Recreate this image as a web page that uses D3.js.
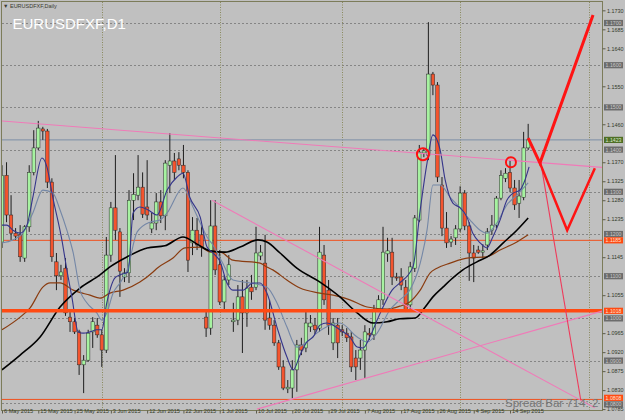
<!DOCTYPE html>
<html><head><meta charset="utf-8">
<script src="https://cdn.jsdelivr.net/npm/d3@7/dist/d3.min.js"></script>
<style>
html,body{margin:0;padding:0;background:#c0c0c0;}
svg{display:block;font-family:"Liberation Sans",Arial,sans-serif;}
</style></head><body>
<svg id="chart" width="625" height="420"></svg>
<script>
// ---- data (EURUSDFXF daily, bar index 0 = 6 May 2015) ----
const opens = [1.1181,1.1339,1.1245,1.1202,1.1198,1.1143,1.1217,1.1346,1.1404,1.1449,1.1444,1.1323,1.1134,1.1101,1.1119,1.1003,1.0992,1.0968,1.0890,1.0901,1.0968,1.0984,1.0961,1.0925,1.1150,1.1262,1.1205,1.1098,1.1108,1.1280,1.1292,1.1311,1.1264,1.1212,1.1226,1.1276,1.1243,1.1363,1.1373,1.1378,1.1363,1.1346,1.1179,1.1209,1.1198,1.1003,1.0977,1.1219,1.1127,1.1039,1.1091,1.0992,1.0996,1.1051,1.1013,1.1074,1.1074,1.1148,1.1131,1.1001,1.0984,1.0942,1.0885,1.0833,1.0835,1.0878,1.0937,1.0930,1.0980,1.0984,1.0977,1.1150,1.1067,1.0942,1.0984,1.0973,1.0965,1.0956,1.0906,1.0906,1.0925,1.0965,1.0961,1.1020,1.1044,1.1153,1.1157,1.1098,1.1098,1.1074,1.1032,1.1119,1.1233,1.1392,1.1387,1.1579,1.1553,1.1316,1.1214,1.1181,1.1191,1.1212,1.1297,1.1219,1.1155,1.1162,1.1157,1.1174,1.1209,1.1221,1.1285,1.1332,1.1346,1.1309,1.1273,1.1287,1.1404];
const highs = [1.1363,1.1370,1.1292,1.1214,1.1221,1.1221,1.1363,1.1446,1.1468,1.1454,1.1449,1.1332,1.1155,1.1127,1.1143,1.1015,1.1001,1.0973,1.0913,1.0973,1.1003,1.1001,1.0973,1.1193,1.1276,1.1387,1.1214,1.1119,1.1304,1.1344,1.1387,1.1346,1.1375,1.1250,1.1297,1.1304,1.1375,1.1439,1.1392,1.1394,1.1411,1.1351,1.1240,1.1238,1.1221,1.1020,1.1280,1.1280,1.1162,1.1103,1.1150,1.1037,1.1079,1.1091,1.1091,1.1103,1.1217,1.1174,1.1198,1.1044,1.0996,1.0949,1.0901,1.0854,1.0901,1.0949,1.0954,1.1020,1.1008,1.1001,1.1217,1.1174,1.1091,1.1001,1.1001,1.0984,1.0977,1.0968,1.0925,1.0949,1.0984,1.0977,1.1032,1.1055,1.1217,1.1191,1.1191,1.1108,1.1119,1.1091,1.1134,1.1245,1.1411,1.1404,1.1702,1.1584,1.1560,1.1335,1.1252,1.1195,1.1221,1.1313,1.1304,1.1228,1.1174,1.1172,1.1176,1.1214,1.1245,1.1290,1.1351,1.1356,1.1375,1.1328,1.1328,1.1442,1.1461];
const lows = [1.1167,1.1228,1.1186,1.1186,1.1134,1.1134,1.1205,1.1339,1.1399,1.1423,1.1309,1.1134,1.1067,1.1091,1.1006,1.0968,1.0963,1.0866,1.0823,1.0897,1.0930,1.0954,1.0885,1.0918,1.1134,1.1186,1.1051,1.1086,1.1084,1.1233,1.1280,1.1238,1.1233,1.1202,1.1209,1.1226,1.1209,1.1297,1.1328,1.1351,1.1332,1.1110,1.1150,1.1162,1.1146,1.0956,1.0961,1.1103,1.1032,1.1020,1.1079,1.0968,1.0984,1.0918,1.0980,1.1044,1.1067,1.1138,1.0973,1.0973,1.0935,1.0878,1.0830,1.0823,1.0811,1.0826,1.0913,1.0920,1.0968,1.0963,1.0968,1.1032,1.0961,1.0925,1.0906,1.0958,1.0944,1.0873,1.0854,1.0878,1.0859,1.0949,1.0949,1.1015,1.1032,1.1134,1.1079,1.1089,1.1067,1.1015,1.1020,1.1110,1.1228,1.1382,1.1375,1.1529,1.1323,1.1195,1.1167,1.1169,1.1174,1.1205,1.1209,1.1089,1.1086,1.1153,1.1143,1.1162,1.1198,1.1214,1.1280,1.1323,1.1299,1.1257,1.1238,1.1280,1.1399];
const closes = [1.1339,1.1245,1.1202,1.1195,1.1146,1.1217,1.1346,1.1404,1.1451,1.1444,1.1323,1.1146,1.1101,1.1110,1.1013,1.0992,1.0968,1.0890,1.0901,1.0965,1.0992,1.0961,1.0925,1.1150,1.1262,1.1209,1.1112,1.1108,1.1280,1.1294,1.1311,1.1247,1.1245,1.1226,1.1276,1.1243,1.1368,1.1373,1.1346,1.1363,1.1346,1.1138,1.1209,1.1174,1.1169,1.0977,1.1219,1.1115,1.1039,1.1091,1.1127,1.0996,1.1051,1.1013,1.1072,1.1063,1.1155,1.1157,1.0996,1.0984,1.0942,1.0885,1.0835,1.0837,1.0878,1.0937,1.0925,1.0989,1.0989,1.0973,1.1157,1.1044,1.0984,1.0989,1.0942,1.0968,1.0954,1.0885,1.0885,1.0925,1.0968,1.0961,1.1020,1.1044,1.1157,1.1160,1.1098,1.1096,1.1079,1.1020,1.1122,1.1238,1.1394,1.1397,1.1579,1.1553,1.1335,1.1214,1.1179,1.1188,1.1212,1.1297,1.1219,1.1155,1.1143,1.1157,1.1160,1.1205,1.1221,1.1285,1.1339,1.1344,1.1309,1.1269,1.1290,1.1404,1.1423];

const dateLabels = ["6 May 2015","15 May 2015","25 May 2015","3 Jun 2015","12 Jun 2015","22 Jun 2015","1 Jul 2015","10 Jul 2015","20 Jul 2015","29 Jul 2015","7 Aug 2015","17 Aug 2015","26 Aug 2015","4 Sep 2015","14 Sep 2015"];
const dateLabelBars = [0,8,16,24,32,40,48,56,64,72,80,88,96,104,112];
const monthGridBars = [22,48,75,101,129.4];

// visible axis labels (the ones hidden under price boxes in the reference are left out)
const priceLabels = ["1.0785","1.0830","1.0875","1.0920","1.0965","1.1055","1.1145","1.1235","1.1280","1.1325","1.1370","1.1460","1.1550","1.1640","1.1685","1.1730"];
const gridLevels = ["1.0800","1.0900","1.1000","1.1100","1.1200","1.1300","1.1400","1.1500","1.1600","1.1700"];
const bidLevel = "1.1423";
const thinRedLevels = ["1.1185","1.0808"];
const thickRedLevel = "1.1018";

// moving averages: [bar index, price]
const maFast = [[0,1.1221],[1.1,1.1221],[2.4,1.1209],[4,1.1202],[5.5,1.1221],[6.8,1.1287],[8.8,1.1380],[9.9,1.1359],[11.2,1.1287],[13.2,1.1186],[14.3,1.1115],[15.4,1.1051],[16.8,1.0968],[17.9,1.0965],[19.4,1.0968],[20.9,1.0973],[22,1.0973],[23.1,1.1037],[24.9,1.1096],[26,1.1103],[27.8,1.1110],[28.9,1.1250],[30.4,1.1264],[32.2,1.1257],[34.2,1.1245],[36.4,1.1304],[38.6,1.1335],[39.9,1.1344],[41.4,1.1287],[43.7,1.1240],[45.2,1.1169],[46.5,1.1155],[48.1,1.1134],[49.6,1.1084],[50.9,1.1067],[53.1,1.1067],[55.3,1.1084],[56.9,1.1084],[58.4,1.1060],[60.6,1.0980],[62.8,1.0909],[64.2,1.0878],[65.7,1.0913],[67.2,1.0944],[68.6,1.0956],[70.1,1.0984],[71.6,1.0989],[73,1.0984],[74.5,1.0973],[76.7,1.0956],[78.3,1.0932],[79.6,1.0930],[81.1,1.0956],[82.7,1.0996],[84,1.1027],[86,1.1067],[87.7,1.1084],[90.6,1.1122],[92.2,1.1257],[93.7,1.1368],[95,1.1435],[96.6,1.1399],[97.7,1.1328],[99.4,1.1273],[101,1.1262],[102.5,1.1240],[103.8,1.1202],[105.4,1.1179],[106.9,1.1167],[108.2,1.1193],[109.8,1.1233],[111.3,1.1280],[112.7,1.1297],[114.2,1.1304],[115.3,1.1328],[116.2,1.1359]];
const maSlate = [[0,1.1179],[2.4,1.1186],[4.6,1.1202],[6.8,1.1250],[9,1.1304],[11.2,1.1297],[12.8,1.1257],[14.3,1.1209],[15.7,1.1155],[17.2,1.1067],[18.7,1.1037],[20.9,1.1013],[22,1.0996],[23.1,1.1013],[24.5,1.1060],[26,1.1084],[27.6,1.1115],[29.8,1.1205],[32.6,1.1228],[34.8,1.1233],[36.4,1.1250],[39.9,1.1309],[42.1,1.1264],[43.7,1.1226],[45.2,1.1193],[46.5,1.1174],[48.5,1.1134],[50.9,1.1091],[54.7,1.1084],[58.4,1.1074],[60.6,1.1037],[62.8,1.0980],[65,1.0932],[67.2,1.0944],[69.4,1.0965],[71.6,1.0980],[74.5,1.0989],[78.3,1.0956],[80.5,1.0944],[82.7,1.0965],[85.5,1.1020],[87.7,1.1044],[89.9,1.1067],[92.2,1.1131],[93.7,1.1209],[95,1.1316],[96.6,1.1316],[98.8,1.1287],[101,1.1262],[103.2,1.1233],[105.4,1.1209],[106.9,1.1202],[109.1,1.1226],[111.3,1.1269],[113.5,1.1292],[116,1.1321]];
const maBrown = [[0,1.0973],[4,1.1003],[6.2,1.1025],[9,1.1074],[10.6,1.1084],[12.8,1.1084],[15.7,1.1067],[19.4,1.1055],[21.6,1.1048],[23.8,1.1060],[26.7,1.1067],[30.4,1.1086],[33.3,1.1110],[34.2,1.1119],[37.7,1.1143],[40.3,1.1167],[43.7,1.1169],[45.9,1.1157],[48.1,1.1157],[50.9,1.1138],[56.9,1.1131],[58.4,1.1122],[59.7,1.1115],[62.8,1.1091],[65.7,1.1072],[70.1,1.1060],[73,1.1055],[76.7,1.1044],[80.5,1.1027],[84.9,1.1022],[87.7,1.1029],[89.9,1.1039],[92.2,1.1067],[94.4,1.1108],[95.9,1.1119],[98.8,1.1131],[102.5,1.1143],[106.9,1.1146],[109.8,1.1162],[113.5,1.1181],[116,1.1198]];
const maBlack = [[0,1.0878],[4,1.0913],[8.4,1.0956],[12.8,1.1027],[17.2,1.1072],[21.6,1.1103],[23.8,1.1122],[27.6,1.1146],[32,1.1167],[35.9,1.1172],[39.9,1.1193],[43,1.1176],[45.9,1.1160],[49.2,1.1157],[52.5,1.1169],[56.4,1.1186],[58.4,1.1181],[61.3,1.1155],[65,1.1119],[70.1,1.1086],[74.5,1.1051],[78.3,1.1013],[81.8,1.0989],[84.9,1.0992],[87.7,1.0999],[91.1,1.1001],[93.3,1.1027],[95,1.1051],[97.2,1.1074],[99.4,1.1096],[101.6,1.1115],[104.7,1.1134],[107.6,1.1150],[110.5,1.1179],[113.5,1.1209],[116,1.1238]];

// drawn objects: [bar index, price]
const pinkLines = [[[-0.44,1.1468],[133.2,1.1357]],[[46.3,1.1280],[130.7,1.0788]],[[56.2,1.0785],[133.2,1.1020]]];
const thinRedLine = [[118.8,1.1368],[127.6,1.0806]];
const zigzagUp = [[116,1.1427],[118.6,1.1368],[130.3,1.1719]];
const zigzagDown = [[118.6,1.1368],[124.6,1.1209],[130.7,1.1356]];
const circles = [[92.8,1.1389,6],[112.2,1.1370,5]];

// ---- drawing ----
const svg = d3.select("#chart");
const L = 2, R = 602, T = 2, B = 410;
const x = d3.scaleLinear().domain([0,116]).range([2, 2 + 116*4.536]);
const y = d3.scaleLinear().domain([1.08,1.17]).range([402.8,23]);

svg.append("rect").attr("width",625).attr("height",420).attr("fill","#c0c0c0");
svg.append("defs").append("clipPath").attr("id","clip")
  .append("rect").attr("x",L).attr("y",T).attr("width",R-L).attr("height",B-T);
const plot = svg.append("g").attr("clip-path","url(#clip)");

// grid
plot.selectAll(".hg").data(gridLevels).join("line")
  .attr("x1",L).attr("x2",R).attr("y1",d=>Math.round(y(+d))+0.5).attr("y2",d=>Math.round(y(+d))+0.5)
  .attr("stroke","#858585").attr("stroke-dasharray","2,2");
plot.selectAll(".vg").data(monthGridBars).join("line")
  .attr("x1",d=>Math.round(x(d))+0.5).attr("x2",d=>Math.round(x(d))+0.5).attr("y1",T).attr("y2",B)
  .attr("stroke","#8a8a5e").attr("stroke-dasharray","1,1.5");

// horizontal level lines
plot.append("line").attr("x1",L).attr("x2",R).attr("y1",y(+bidLevel)).attr("y2",y(+bidLevel))
  .attr("stroke","#7c8ea6").attr("stroke-width",1);
plot.selectAll(".tr").data(thinRedLevels).join("line")
  .attr("x1",L).attr("x2",R).attr("y1",d=>y(+d)).attr("y2",d=>y(+d))
  .attr("stroke","#f0501e").attr("stroke-width",1);

// candles
const bars = opens.map((o,i)=>({i,o,h:highs[i],l:lows[i],c:closes[i]}));
const cg = plot.append("g");
cg.selectAll(".wick").data(bars).join("line")
  .attr("x1",d=>x(d.i)).attr("x2",d=>x(d.i)).attr("y1",d=>y(d.h)).attr("y2",d=>y(d.l))
  .attr("stroke","#1e1e1e").attr("stroke-width",1);
cg.selectAll(".body").data(bars).join("rect")
  .attr("x",d=>x(d.i)-1.7).attr("width",3.4)
  .attr("y",d=>y(Math.max(d.o,d.c)))
  .attr("height",d=>Math.max(1,Math.abs(y(d.o)-y(d.c))))
  .attr("fill",d=>d.c>=d.o?"#a6f2a0":"#f4542e")
  .attr("stroke","#2a2a2a").attr("stroke-width",0.5);

// moving averages
const line = d3.line().x(d=>x(d[0])).y(d=>y(d[1])).curve(d3.curveMonotoneX);
plot.append("path").attr("d",line(maBrown)).attr("fill","none").attr("stroke","#8a3c10").attr("stroke-width",1.2);
plot.append("path").attr("d",line(maBlack)).attr("fill","none").attr("stroke","#000").attr("stroke-width",1.6);
plot.append("path").attr("d",line(maSlate)).attr("fill","none").attr("stroke","#7487a6").attr("stroke-width",1.1);
plot.append("path").attr("d",line(maFast)).attr("fill","none").attr("stroke","#35358a").attr("stroke-width",1.1);

// objects
plot.append("line").attr("x1",L).attr("x2",R).attr("y1",y(+thickRedLevel)).attr("y2",y(+thickRedLevel))
  .attr("stroke","#ff4a12").attr("stroke-width",3.5);
const sl = d3.line().x(d=>x(d[0])).y(d=>y(d[1]));
plot.selectAll(".pk").data(pinkLines).join("path").attr("d",d=>sl(d))
  .attr("fill","none").attr("stroke","#f07ab8").attr("stroke-width",1.1);
plot.append("path").attr("d",sl(thinRedLine)).attr("fill","none").attr("stroke","#ee3a5a").attr("stroke-width",1.1);
plot.append("path").attr("d",sl(zigzagUp)).attr("fill","none").attr("stroke","#ff1414").attr("stroke-width",3);
plot.append("path").attr("d",sl(zigzagDown)).attr("fill","none").attr("stroke","#ff1414").attr("stroke-width",2.5);
plot.selectAll(".cc").data(circles).join("circle")
  .attr("cx",d=>x(d[0])).attr("cy",d=>y(d[1])).attr("r",d=>d[2])
  .attr("fill","none").attr("stroke","#ff1010").attr("stroke-width",2);

// frame
svg.append("rect").attr("x",L-0.5).attr("y",T-0.5).attr("width",R-L+1).attr("height",B-T+1)
  .attr("fill","none").attr("stroke","#7c7c5a").attr("stroke-width",1);

// price axis
const ya = svg.append("g").attr("transform",`translate(${R+0.5},0)`)
  .call(d3.axisRight(y).tickValues(priceLabels.map(Number)).tickFormat((d,i)=>priceLabels[i]).tickSize(3).tickPadding(1.5));
ya.select(".domain").remove();
ya.selectAll("line").attr("stroke","#5a5a4a");
ya.selectAll("text").attr("font-size","5.4px").attr("fill","#303828").attr("font-family","Liberation Sans, Arial");

// boxed labels (the two boxes that would sit on top of each other at the bottom are nudged apart)
function box(val, fill, tcol, nudge){
  const g = svg.append("g").attr("transform",`translate(604,${y(+val)+(nudge||0)})`);
  g.append("rect").attr("x",0).attr("y",-3.1).attr("width",19).attr("height",6.2).attr("fill",fill);
  g.append("text").attr("x",1.6).attr("y",1.9).attr("font-size","5.2px").attr("fill",tcol).text(val);
}
gridLevels.forEach(v=>box(v,"#6c6c6c","#c8c8c8", v==="1.0800"?1.6:0));
box(bidLevel,"#4e6e26","#d8e8c8");
thinRedLevels.forEach(v=>box(v,"#ff4a12","#ffe0d0", v==="1.0808"?-1.6:0));
box(thickRedLevel,"#ff4a12","#ffe0d0");

// date axis
const xa = svg.append("g").attr("transform",`translate(0,${B+0.5})`)
  .call(d3.axisBottom(x).tickValues(dateLabelBars).tickFormat((d,i)=>dateLabels[i]).tickSize(3).tickPadding(1));
xa.select(".domain").remove();
xa.selectAll("line").attr("stroke","#5a5a4a");
xa.selectAll("text").attr("text-anchor","start").attr("dx","1.5px").attr("dy","-0.2em")
  .attr("font-size","5.6px").attr("fill","#303828").attr("font-family","Liberation Sans, Arial");

// titles
svg.append("text").attr("x",3).attr("y",8).attr("font-size","5.5px").attr("fill","#3a3a30").text("\u25BC EURUSDFXF,Daily");
svg.append("text").attr("x",12.5).attr("y",28.5).attr("font-size","15px").attr("fill","#ffffff").text("EURUSDFXF,D1");
svg.append("text").attr("x",505).attr("y",406.5).attr("font-size","11.5px").attr("fill","#767676").text("Spread Bar 714: 2");
</script>
</body></html>
